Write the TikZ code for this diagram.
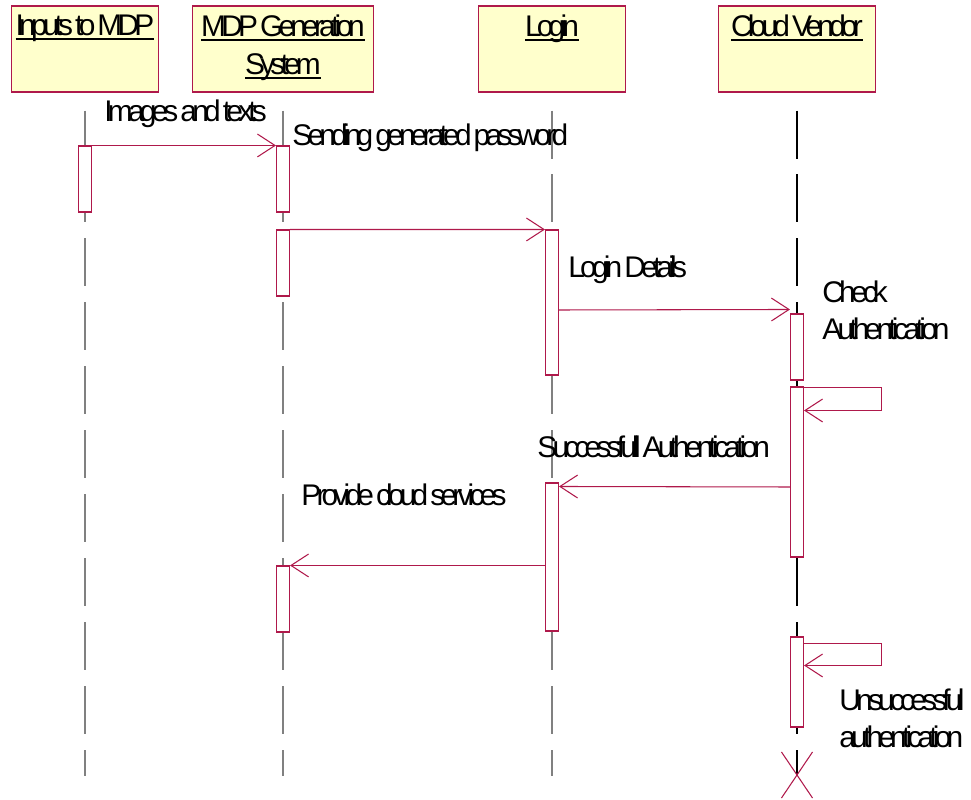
\documentclass[tikz,border=0pt]{standalone}
\usepackage{fontspec}
\setmainfont{Liberation Sans}[LetterSpace=-16, WordSpace=0.6]
\usetikzlibrary{arrows.meta, positioning, shapes.misc}
\definecolor{umlred}{RGB}{175,25,75}
\definecolor{umlyellow}{RGB}{255,255,204}
\newsavebox\hdbox
\newcommand\hdul[1]{\sbox\hdbox{#1}\rlap{\rule[-2.6pt]{\wd\hdbox}{1.1pt}}\usebox\hdbox}

\begin{document}
\begin{tikzpicture}[x=0.02cm, y=-0.02cm,
    headbox/.style={draw=umlred, fill=umlyellow, line width=0.6pt, minimum height=1.72cm, inner sep=0},
    headtext/.style={anchor=north, inner sep=0, align=center, font=\fontsize{17}{21.6}\selectfont},
    act/.style={draw=umlred, fill=white, line width=0.6pt, minimum width=0.26cm, inner sep=0},
    msg/.style={draw=umlred, line width=0.6pt, -{Straight Barb[length=10pt, width=13pt]}},
    txt/.style={anchor=base west, inner sep=0, align=left, font=\fontsize{17}{21}\selectfont},
    lifeline/.style={line width=0.6pt, dash pattern=on 0.96cm off 0.32cm},
  ]
  \useasboundingbox (0,0) rectangle (971,800);

  % objects
  \node[headbox, minimum width=2.94cm] (inputs) at (85,49) {};
  \node[headbox, minimum width=3.62cm] (mdpgen) at (283,49) {};
  \node[headbox, minimum width=2.94cm] (login) at (552,49) {};
  \node[headbox, minimum width=3.14cm] (vendor) at (797,49) {};
  \node[headtext] at ([yshift=-0.18cm]inputs.north) {\hdul{Inputs to MDP}};
  \node[headtext] at ([yshift=-0.18cm]mdpgen.north) {\hdul{MDP Generation}\\\hdul{System}};
  \node[headtext] at ([yshift=-0.18cm]login.north) {\hdul{Login}};
  \node[headtext] at ([yshift=-0.18cm]vendor.north) {\hdul{Cloud Vendor}};

  % lifelines
  \draw[lifeline, gray] ([yshift=-0.36cm]inputs.south) -- ++(0,665);
  \draw[lifeline, gray] ([yshift=-0.36cm]mdpgen.south) -- ++(0,665);
  \draw[lifeline, gray] ([yshift=-0.36cm]login.south) -- ++(0,665);
  \draw[lifeline, black] ([yshift=-0.36cm]vendor.south) -- ++(0,665);

  % activations
  \node[act, minimum height=1.32cm] (a1) at (85,179) {};
  \node[act, minimum height=1.32cm] (g1) at (283,179) {};
  \node[act, minimum height=1.32cm] (g2) at (283,263) {};
  \node[act, minimum height=1.32cm] (g3) at (283,599) {};
  \node[act, minimum height=2.90cm] (l1) at (552,302.5) {};
  \node[act, minimum height=2.96cm] (l2) at (552,557) {};
  \node[act, minimum height=1.32cm] (v1) at (797,347) {};
  \node[act, minimum height=3.40cm] (v2) at (797,472) {};
  \node[act, minimum height=1.80cm] (v3) at (797,682) {};
  \node[draw=umlred, cross out, line width=0.6pt, inner sep=0,
        minimum width=0.6cm, minimum height=0.9cm] (stop) at (797,775) {};

  % messages
  \draw[msg] (a1.north east) -- (g1.north west);
  \draw[msg] (g2.north east) -- (l1.north west);
  \draw[msg] (l1.east |- 0,310) -- ([yshift=0.08cm]v1.north west);
  \draw[msg] ([yshift=-0.02cm]v2.north east) -- ++(77,0) -- ++(0,23) -- ++(-77,0);
  \draw[msg] (v2.west |- 0,487) -- ([yshift=-0.08cm]l2.north east);
  \draw[msg] (l2.west |- g3.north) -- (g3.north east);
  \draw[msg] ([yshift=-0.14cm]v3.north east) -- ++(77,0) -- ++(0,22) -- ++(-77,0);

  % labels
  \node[txt] (m1) at (104,122) {Images and texts};
  \node[txt] (m2) at (292,146) {Sending generated password};
  \node[txt] (m3) at (568,278) {Login Details};
  \node[txt, anchor=north west] (m4) at (822,281) {Check\\Authentication};
  \node[txt] (m5) at (537,458) {Successfull Authentication};
  \node[txt] (m6) at (301,506) {Provide cloud services};
  \node[txt, anchor=north west] (m7) at (839,689) {Unsuccessful\\authentication};
\end{tikzpicture}
\end{document}
